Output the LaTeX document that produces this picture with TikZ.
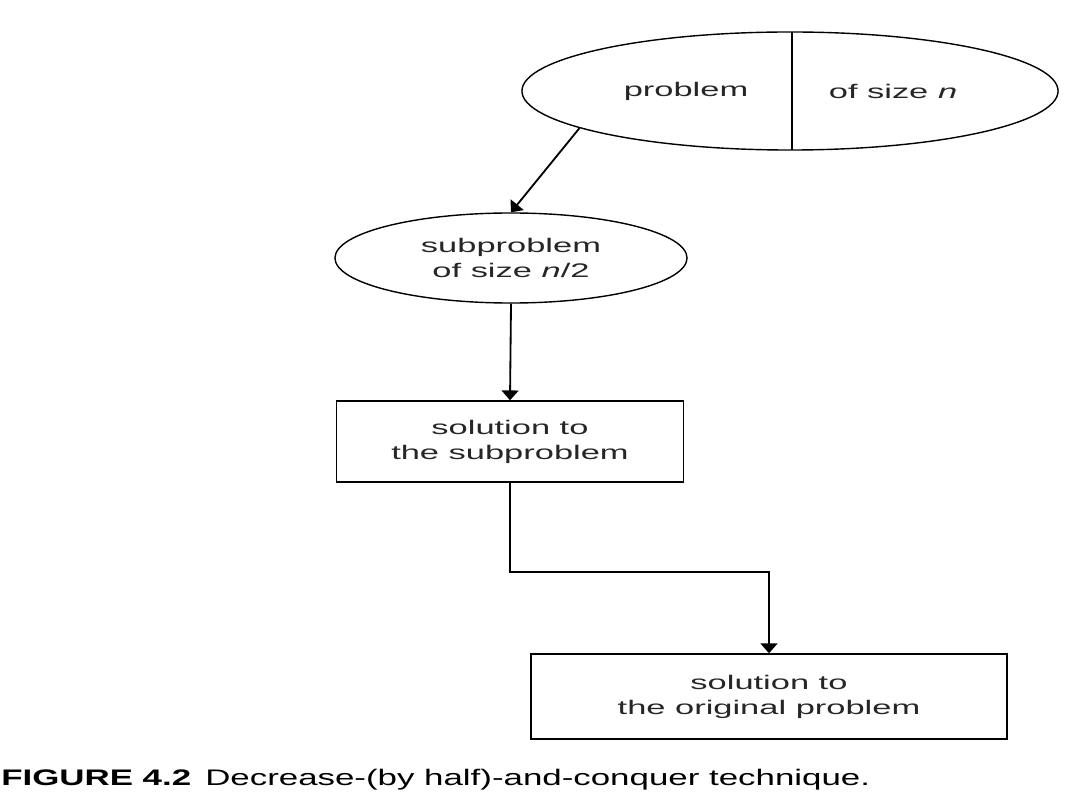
\documentclass[tikz,border=0pt]{standalone}
\usepackage{fontspec}
\newfontfamily\diagfont{Liberation Sans}[FakeStretch=1.75]
\newfontfamily\capfont{Liberation Sans}[FakeStretch=1.55]
\usetikzlibrary{shapes.geometric}
\usetikzlibrary{arrows.meta}
\usetikzlibrary{calc}

\begin{document}
\begin{tikzpicture}[x=0.025cm,y=-0.025cm,
    txt/.style={font=\diagfont\fontsize{14}{17.8}\selectfont,text=black!85,align=center},
    blob/.style={ellipse,draw,line width=1pt,inner sep=0pt,txt},
    solbox/.style={rectangle,draw,line width=1pt,inner sep=0pt,txt},
    arr/.style={line width=1.3pt,-{Triangle[length=7pt,width=12pt]}}]
    \useasboundingbox (0,0) rectangle (1077,806);
    \node [blob,minimum width=13.4cm,minimum height=2.95cm] (prob) at (790,91) {};
    \draw [line width=1.3pt] (792,32) -- (792,150);
    \node [txt] (probL) at (686,91) {problem};
    \node [txt] (probR) at (893,91) {of size \textit{n}};
    \node [blob,minimum width=8.8cm,minimum height=2.25cm] (sub) at (511,258)
        {subproblem\\of size \textit{n}/2};
    \node [solbox,minimum width=8.675cm,minimum height=2.025cm] (sol1) at (510,441.5)
        {solution to\\the subproblem};
    \node [solbox,minimum width=11.9cm,minimum height=2.125cm] (sol2) at (769,696.5)
        {solution to\\the original problem};
    \coordinate (bend) at (510,572);
    \draw [arr] (prob.190) -- (sub.north);
    \draw [arr] (sub.south) -- (sol1.north);
    \draw [arr] (sol1.south) -- (bend) -| (sol2.north);
    \node [anchor=base west,inner sep=0pt,font=\capfont\fontsize{16}{19}\selectfont] (cap) at (1,785)
        {\textbf{FIGURE 4.2}\hspace{10pt}Decrease-(by half)-and-conquer technique.};
\end{tikzpicture}
\end{document}
